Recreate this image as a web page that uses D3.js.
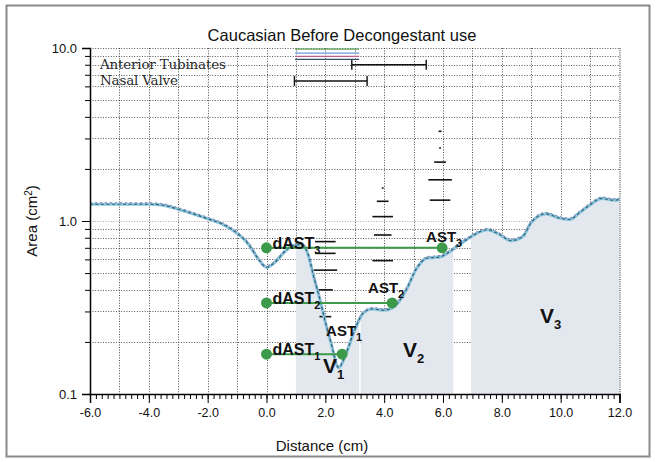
<!DOCTYPE html>
<html>
<head>
<meta charset="utf-8">
<script src="https://cdn.jsdelivr.net/npm/d3@7"></script>
<style>
  body { margin: 0; background: #fff; }
  svg { display: block; }
  .tick text { font-family: "Liberation Sans", Arial, sans-serif; }
</style>
</head>
<body>
<div id="chart"></div>
<script>
// acoustic rhinometry curve
var distanceCm = [-6, -5, -4, -3.6, -3, -2.5, -2, -1.5, -1, -0.6, -0.3, 0, 0.3, 0.6, 0.9, 1.2, 1.4, 1.6, 1.8, 2.0,
    2.2, 2.45, 2.7, 3.0, 3.3, 3.6, 4.0, 4.4, 4.75, 5.1, 5.45, 5.9, 6.2, 6.5, 6.8, 7.1, 7.5, 7.9, 8.3, 8.7,
    9.0, 9.5, 9.95, 10.3, 10.65, 11.0, 11.4, 11.8, 12.0];
var areaCm2 = [1.25, 1.25, 1.25, 1.24, 1.17, 1.1, 1.03, 0.96, 0.85, 0.73, 0.61, 0.54, 0.58, 0.66, 0.72, 0.73, 0.65, 0.48, 0.36, 0.26,
    0.195, 0.142, 0.17, 0.235, 0.295, 0.31, 0.305, 0.327, 0.40, 0.53, 0.61, 0.62, 0.66, 0.72, 0.78, 0.84, 0.89, 0.84, 0.77, 0.81,
    0.98, 1.1, 1.04, 1.02, 1.12, 1.24, 1.35, 1.32, 1.33];

// volume segments V1, V2, V3
var volumeNames = ["V1", "V2", "V3"];
var volumeStart = [1.0, 3.2, 6.95];
var volumeEnd = [3.15, 6.35, 12.0];

// AST markers: distance of the dot, area level
var astNames = ["1", "2", "3"];
var astDistance = [2.57, 4.27, 5.97];
var astArea = [0.17, 0.336, 0.70];

// normative markers (area values) at three distances
var sdDistance = [2.0, 3.95, 5.9];
var sdAreas = [[0.76, 0.65, 0.52, 0.40, 0.28], [1.55, 1.3, 1.06, 0.83, 0.59], [3.3, 2.64, 2.19, 1.73, 1.32]];
var sdSpread = [[0.35, 0.35, 0.4, 0.25, 0.2], [0.03, 0.2, 0.35, 0.3, 0.35], [0.05, 0.03, 0.2, 0.4, 0.35]];

// legend ranges
var legendNames = ["Anterior Tubinates", "Nasal Valve"];
var legendFrom = [2.9, 0.95];
var legendTo = [5.43, 3.42];
var legendArea = [8.0, 6.45];

// curve legend swatches
var swatchArea = [9.85, 9.35, 8.95, 8.6];
var swatchColor = ["#5aa25a", "#6a9ad8", "#c0608a", "#3b4a66"];

var xTicks = d3.range(-6, 12.01, 2);
var yMajor = [0.1, 1, 10];

var W = 656, H = 462;
var margin = { top: 48, right: 36.5, bottom: 68, left: 90 };
var width = W - margin.left - margin.right;
var height = H - margin.top - margin.bottom;

var svg = d3.select("#chart").append("svg")
    .attr("width", W)
    .attr("height", H);

// outer frame
svg.append("rect")
    .attr("x", 6.5).attr("y", 5.5)
    .attr("width", 643).attr("height", 451)
    .attr("fill", "none")
    .attr("stroke", "#8a8a8a")
    .attr("stroke-width", 2);

var g = svg.append("g")
    .attr("transform", "translate(" + margin.left + "," + margin.top + ")");

var x = d3.scaleLinear().domain([-6, 12]).range([0, width]);
var y = d3.scaleLog().domain([0.1, 10]).range([height, 0]);

var yMinor = [];
[0.1, 1].forEach(function(dec){
    for (var k = 1; k <= 9; k++) yMinor.push(+(k * dec).toFixed(2));
});
yMinor.push(10);

// hyphen instead of unicode minus, like the original
var fmt1 = function(v){ return d3.format(".1f")(v).replace("\u2212", "-"); };

// grid
var grid = g.append("g").attr("class", "grid")
    .attr("stroke", "#222")
    .attr("stroke-width", 1)
    .attr("stroke-dasharray", "1,1.6");

grid.selectAll("line.h")
    .data(yMinor.filter(function(v){ return v > 0.1; }))
    .enter().append("line")
    .attr("class", "h")
    .attr("x1", 0).attr("x2", width)
    .attr("y1", function(d){ return Math.round(y(d)) + 0.5; })
    .attr("y2", function(d){ return Math.round(y(d)) + 0.5; })
    .attr("stroke-opacity", function(d){ return d === 1 ? 0.4 : 0.75; });

grid.selectAll("line.v")
    .data(d3.range(-5, 12, 1))
    .enter().append("line")
    .attr("class", "v")
    .attr("x1", function(d){ return Math.round(x(d)) + 0.5; })
    .attr("x2", function(d){ return Math.round(x(d)) + 0.5; })
    .attr("y1", 0).attr("y2", height)
    .attr("stroke-opacity", 0.8);

// volume fills
var defs = svg.append("defs");
volumeNames.forEach(function(name, i){
    defs.append("clipPath").attr("id", "clip" + i)
        .append("rect")
        .attr("x", x(volumeStart[i]))
        .attr("width", x(volumeEnd[i]) - x(volumeStart[i]))
        .attr("y", -5)
        .attr("height", height + 5);
});

var curveData = distanceCm.map(function(d, i){ return { d: d, a: areaCm2[i] }; });

var area = d3.area()
    .x(function(p){ return x(p.d); })
    .y0(height)
    .y1(function(p){ return y(p.a); })
    .curve(d3.curveMonotoneX);

var line = d3.line()
    .x(function(p){ return x(p.d); })
    .y(function(p){ return y(p.a); })
    .curve(d3.curveMonotoneX);

volumeNames.forEach(function(name, i){
    g.append("path")
        .datum(curveData)
        .attr("clip-path", "url(#clip" + i + ")")
        .attr("fill", "#e3e8ee")
        .attr("d", area);
});

// right frame at 12
g.append("line")
    .attr("x1", width + 0.5).attr("x2", width + 0.5)
    .attr("y1", 0).attr("y2", height)
    .attr("stroke", "#222")
    .attr("stroke-dasharray", "1,1.2");

// normative markers
sdDistance.forEach(function(dx, i){
    g.selectAll(null)
        .data(sdAreas[i])
        .enter().append("line")
        .attr("x1", function(a, j){ return x(dx - sdSpread[i][j]); })
        .attr("x2", function(a, j){ return x(dx + sdSpread[i][j]); })
        .attr("y1", function(a){ return y(a); })
        .attr("y2", function(a){ return y(a); })
        .attr("stroke", "#111")
        .attr("stroke-width", 1.6);
});

// curve: light blue band with dark dashed trace
g.append("path")
    .datum(curveData)
    .attr("fill", "none")
    .attr("stroke", "#8ec5de")
    .attr("stroke-width", 3.2)
    .attr("d", line);

g.append("path")
    .datum(curveData)
    .attr("fill", "none")
    .attr("stroke", "#8a7aa8")
    .attr("stroke-width", 1)
    .attr("stroke-dasharray", "2,3")
    .attr("transform", "translate(0,-1.5)")
    .attr("d", line);

g.append("path")
    .datum(curveData)
    .attr("fill", "none")
    .attr("stroke", "#2d6878")
    .attr("stroke-width", 1.2)
    .attr("stroke-dasharray", "3,2.5")
    .attr("d", line);

// legend swatches and ranges
g.selectAll("line.swatch")
    .data(swatchArea)
    .enter().append("line")
    .attr("class", "swatch")
    .attr("x1", x(0.97)).attr("x2", x(3.15))
    .attr("y1", function(a){ return y(a); })
    .attr("y2", function(a){ return y(a); })
    .attr("stroke", function(a, i){ return swatchColor[i]; })
    .attr("stroke-width", 1.3);

legendNames.forEach(function(name, i){
    var yy = y(legendArea[i]);
    g.append("line")
        .attr("x1", x(legendFrom[i])).attr("x2", x(legendTo[i]))
        .attr("y1", yy).attr("y2", yy)
        .attr("stroke", "#111").attr("stroke-width", 1.6);
    [legendFrom[i], legendTo[i]].forEach(function(v){
        g.append("line")
            .attr("x1", x(v)).attr("x2", x(v))
            .attr("y1", yy - 5).attr("y2", yy + 5)
            .attr("stroke", "#111").attr("stroke-width", 1.4);
    });
    g.append("text")
        .attr("x", 10)
        .attr("y", yy + 4)
        .attr("font-family", "DejaVu Serif, serif")
        .attr("font-size", 13.5)
        .attr("letter-spacing", -0.2)
        .attr("fill", "#2a2a2a")
        .text(name);
});

// AST guide lines
var green = "#3d9a4b";
var astLabelDx = [-16, -24, -16];
var astLabelDy = [-18, -10, -6];
astNames.forEach(function(n, i){
    var yy = y(astArea[i]);
    g.append("line")
        .attr("x1", x(0)).attr("x2", x(astDistance[i]))
        .attr("y1", yy).attr("y2", yy)
        .attr("stroke", green).attr("stroke-width", 2);
    [0, astDistance[i]].forEach(function(v){
        g.append("circle")
            .attr("cx", x(v)).attr("cy", yy)
            .attr("r", 5.5)
            .attr("fill", green);
    });

    var lab = g.append("text")
        .attr("x", x(0) + 6)
        .attr("y", yy + 1)
        .attr("font-family", "Liberation Sans, Arial, sans-serif")
        .attr("font-weight", "bold")
        .attr("font-size", 16)
        .attr("fill", "#111");
    lab.append("tspan").text("dAST");
    lab.append("tspan").attr("dy", 5).attr("font-size", 11).text(n);

    var lab2 = g.append("text")
        .attr("x", x(astDistance[i]) + astLabelDx[i])
        .attr("y", yy + astLabelDy[i])
        .attr("font-family", "Liberation Sans, Arial, sans-serif")
        .attr("font-weight", "bold")
        .attr("font-size", 15)
        .attr("fill", "#111");
    lab2.append("tspan").text("AST");
    lab2.append("tspan").attr("dy", 5).attr("font-size", 11).text(n);
});

// volume labels
var vLabelAt = [[1.92, 0.132], [4.64, 0.164], [9.3, 0.257]];
volumeNames.forEach(function(name, i){
    var t = g.append("text")
        .attr("x", x(vLabelAt[i][0]))
        .attr("y", y(vLabelAt[i][1]))
        .attr("font-family", "Liberation Sans, Arial, sans-serif")
        .attr("font-weight", "bold")
        .attr("font-size", 21)
        .attr("fill", "#111");
    t.append("tspan").text("V");
    t.append("tspan").attr("dy", 6).attr("font-size", 13).text(name.slice(1));
});

// axes
var xMinor = d3.range(-6, 12.001, 0.2).map(function(v){ return +v.toFixed(1); });

g.append("g")
    .attr("transform", "translate(0," + height + ")")
    .call(d3.axisBottom(x).tickValues(xMinor).tickSize(5).tickFormat(""))
    .call(function(s){ s.select(".domain").remove(); });

var xAxis = g.append("g")
    .attr("transform", "translate(0," + height + ")")
    .call(d3.axisBottom(x).tickValues(xTicks).tickSize(9).tickPadding(5).tickFormat(fmt1));
xAxis.selectAll("text").attr("font-size", 12.5).attr("fill", "#111");
xAxis.select(".domain").attr("stroke-width", 1.5);

g.append("g")
    .call(d3.axisLeft(y).tickValues(yMinor).tickSize(5).tickFormat(""))
    .call(function(s){ s.select(".domain").remove(); });

var yAxis = g.append("g")
    .call(d3.axisLeft(y).tickValues(yMajor).tickSize(8).tickPadding(5).tickFormat(fmt1));
yAxis.selectAll("text").attr("font-size", 13).attr("fill", "#111");
yAxis.select(".domain").attr("stroke-width", 1.5);

// titles
svg.append("text")
    .attr("x", 342).attr("y", 41)
    .attr("text-anchor", "middle")
    .attr("font-family", "Liberation Sans, Arial, sans-serif")
    .attr("font-size", 16.5)
    .attr("fill", "#111")
    .text("Caucasian Before Decongestant use");

svg.append("text")
    .attr("x", 322).attr("y", 451)
    .attr("text-anchor", "middle")
    .attr("font-family", "Liberation Sans, Arial, sans-serif")
    .attr("font-size", 15)
    .attr("fill", "#111")
    .text("Distance (cm)");

var yl = svg.append("text")
    .attr("transform", "translate(37," + 221 + ") rotate(-90)")
    .attr("text-anchor", "middle")
    .attr("font-family", "Liberation Sans, Arial, sans-serif")
    .attr("font-size", 15)
    .attr("fill", "#111");
yl.append("tspan").text("Area (cm");
yl.append("tspan").attr("dy", -5).attr("font-size", 10).text("2");
yl.append("tspan").attr("dy", 5).text(")");
</script>
</body>
</html>
